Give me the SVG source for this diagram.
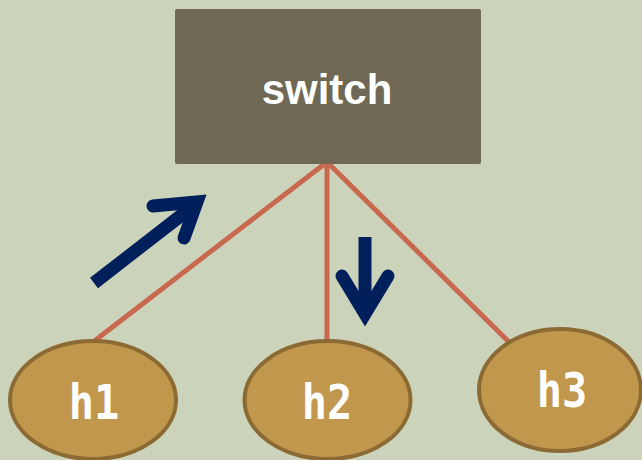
<svg xmlns="http://www.w3.org/2000/svg" width="642" height="460" viewBox="0 0 642 460">
<style>
.link{stroke:#C8694F;stroke-width:5;fill:none}
.host{fill:#C1974D;stroke:#8C6A33;stroke-width:4}
.hl{font-family:"DejaVu Sans Mono","Liberation Mono",monospace;font-weight:bold;font-size:42px;fill:#fff;text-anchor:middle}
.arrow{stroke:#001F5B;stroke-width:13;fill:none}
</style>
<rect width="642" height="460" fill="#CCD3BB"/>
<g id="connectors">
<line class="link" x1="327" y1="162" x2="93" y2="342"/>
<line class="link" x1="327" y1="162" x2="327" y2="342"/>
<line class="link" x1="327" y1="162" x2="510" y2="343"/>
</g>
<g id="switch">
<rect x="175" y="9" width="306" height="155" rx="2" fill="#6E6855"/>
<text x="327" y="104" font-family="Liberation Sans, Arial, sans-serif" font-weight="bold" font-size="42" fill="#fff" text-anchor="middle">switch</text>
</g>
<g id="h1">
<ellipse class="host" cx="93" cy="400" rx="83" ry="59"/>
<text class="hl" transform="translate(94 419) scale(1 1.15)">h1</text>
</g>
<g id="h2">
<ellipse class="host" cx="327.5" cy="400" rx="83" ry="59"/>
<text class="hl" transform="translate(327 419) scale(1 1.15)">h2</text>
</g>
<g id="h3">
<ellipse class="host" cx="560" cy="390" rx="81" ry="61"/>
<text class="hl" transform="translate(562 407) scale(1 1.15)">h3</text>
</g>
<g id="arrows">
<line class="arrow" x1="94" y1="283" x2="192" y2="207"/>
<polyline class="arrow" points="153,206 197,202 184,238" stroke-linecap="round" stroke-linejoin="miter"/>
<line class="arrow" x1="365" y1="237" x2="365" y2="310"/>
<polyline class="arrow" points="342,276 365,314 388,276" stroke-linecap="round" stroke-linejoin="miter"/>
</g>
</svg>
